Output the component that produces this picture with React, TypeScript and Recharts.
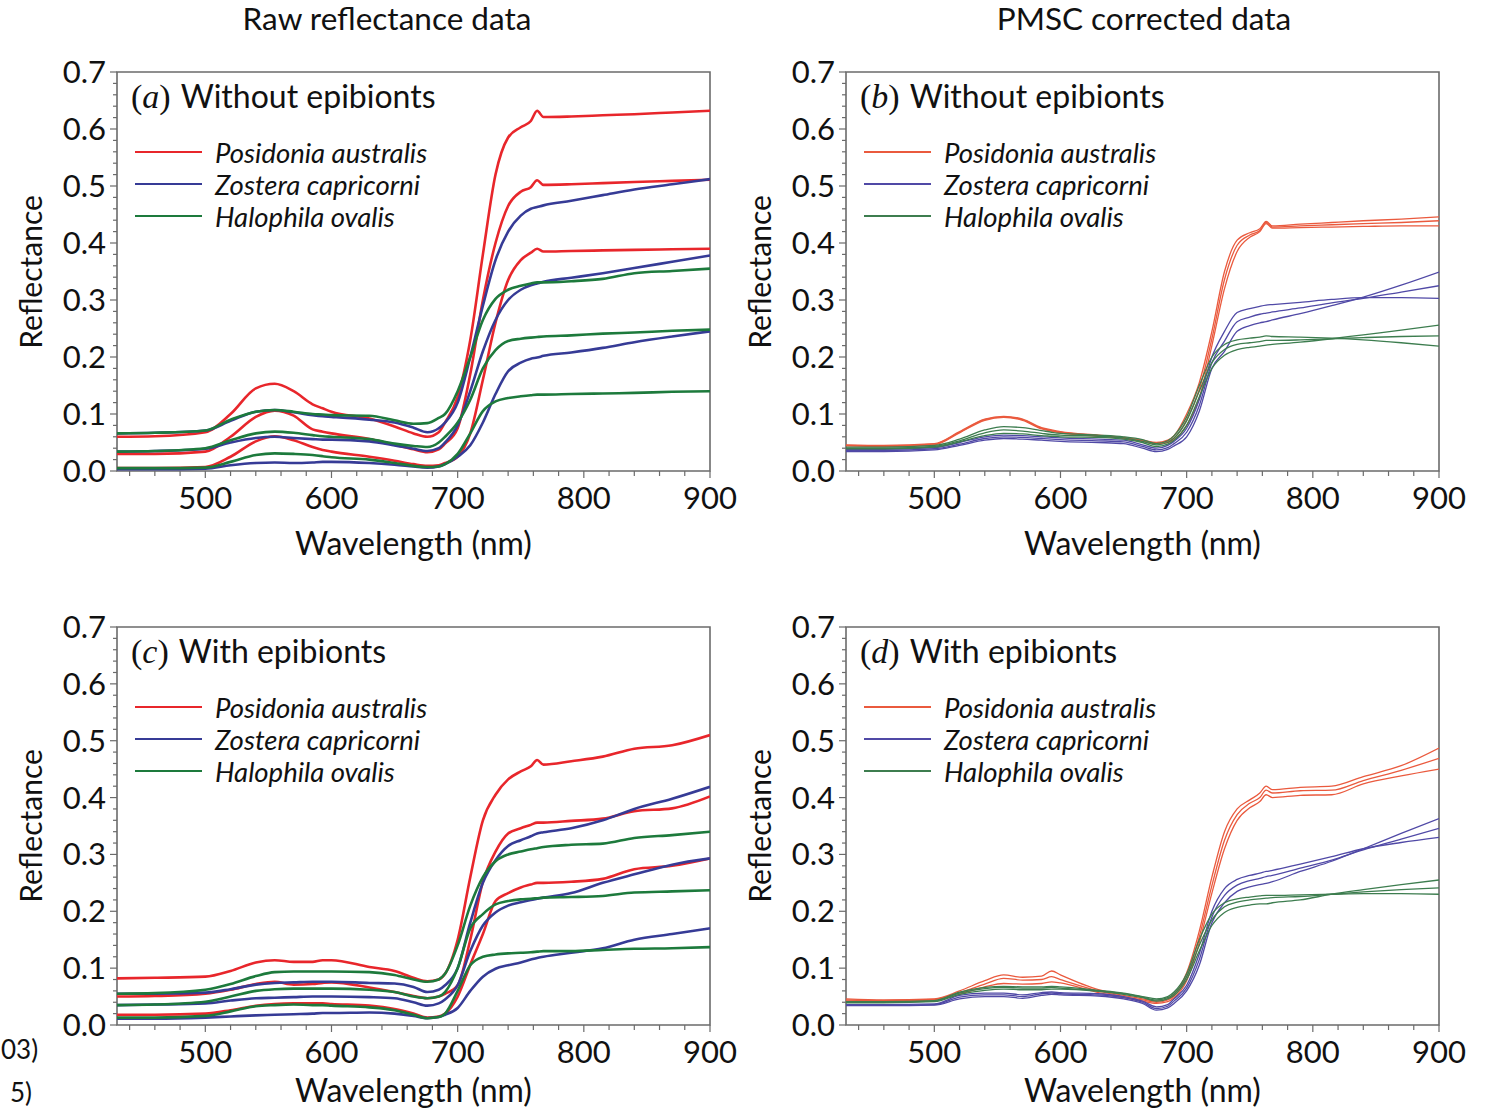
import { LineChart, Line, XAxis, YAxis, ReferenceArea } from 'recharts'

// wavelength grid (nm) shared by every spectrum
const WAVELENGTHS = [430, 460, 500, 520, 540, 555, 570, 585, 593, 600, 630, 650, 665, 676, 685, 690, 700, 710, 720, 730, 740, 750, 758, 763, 768, 790, 815, 840, 870, 900]

// (a) raw, without epibionts
const A_POS_1 = [0.060, 0.061, 0.068, 0.100, 0.145, 0.153, 0.140, 0.117, 0.110, 0.104, 0.092, 0.078, 0.066, 0.060, 0.068, 0.085, 0.130, 0.230, 0.380, 0.520, 0.585, 0.603, 0.614, 0.632, 0.621, 0.622, 0.624, 0.626, 0.629, 0.632]
const A_POS_2 = [0.030, 0.030, 0.034, 0.060, 0.095, 0.106, 0.097, 0.073, 0.069, 0.066, 0.056, 0.046, 0.038, 0.033, 0.038, 0.048, 0.075, 0.170, 0.300, 0.400, 0.465, 0.490, 0.498, 0.510, 0.502, 0.503, 0.505, 0.507, 0.509, 0.511]
const A_POS_3 = [0.005, 0.005, 0.007, 0.025, 0.052, 0.061, 0.054, 0.042, 0.037, 0.034, 0.025, 0.018, 0.012, 0.009, 0.010, 0.014, 0.025, 0.066, 0.160, 0.260, 0.335, 0.370, 0.383, 0.390, 0.385, 0.386, 0.387, 0.388, 0.389, 0.390]
const A_ZOS_1 = [0.066, 0.067, 0.071, 0.088, 0.104, 0.107, 0.103, 0.098, 0.096, 0.095, 0.090, 0.085, 0.076, 0.068, 0.075, 0.085, 0.120, 0.200, 0.290, 0.370, 0.420, 0.448, 0.460, 0.463, 0.466, 0.474, 0.484, 0.494, 0.503, 0.512]
const A_ZOS_2 = [0.034, 0.035, 0.039, 0.050, 0.058, 0.060, 0.058, 0.056, 0.055, 0.055, 0.052, 0.045, 0.039, 0.035, 0.040, 0.050, 0.080, 0.140, 0.210, 0.265, 0.300, 0.318, 0.326, 0.329, 0.332, 0.339, 0.347, 0.356, 0.367, 0.378]
const A_ZOS_3 = [0.003, 0.003, 0.004, 0.010, 0.014, 0.015, 0.014, 0.015, 0.016, 0.016, 0.014, 0.011, 0.008, 0.006, 0.008, 0.012, 0.025, 0.045, 0.085, 0.135, 0.175, 0.190, 0.197, 0.199, 0.202, 0.208, 0.216, 0.226, 0.236, 0.245]
const A_HAL_1 = [0.066, 0.067, 0.071, 0.090, 0.104, 0.107, 0.104, 0.100, 0.099, 0.098, 0.097, 0.089, 0.083, 0.084, 0.093, 0.100, 0.140, 0.200, 0.265, 0.302, 0.318, 0.325, 0.329, 0.331, 0.331, 0.333, 0.337, 0.347, 0.351, 0.355]
const A_HAL_2 = [0.034, 0.035, 0.040, 0.054, 0.066, 0.069, 0.067, 0.063, 0.061, 0.060, 0.056, 0.048, 0.044, 0.042, 0.050, 0.060, 0.085, 0.125, 0.180, 0.212, 0.228, 0.232, 0.234, 0.235, 0.236, 0.238, 0.241, 0.243, 0.246, 0.248]
const A_HAL_3 = [0.005, 0.005, 0.006, 0.016, 0.028, 0.031, 0.030, 0.028, 0.026, 0.024, 0.020, 0.014, 0.009, 0.007, 0.008, 0.012, 0.030, 0.066, 0.105, 0.122, 0.128, 0.131, 0.133, 0.134, 0.134, 0.135, 0.136, 0.137, 0.139, 0.140]

// (b) PMSC, without epibionts
const B_POS_1 = [0.046, 0.045, 0.048, 0.069, 0.091, 0.096, 0.091, 0.076, 0.072, 0.069, 0.063, 0.059, 0.054, 0.050, 0.054, 0.062, 0.100, 0.155, 0.245, 0.350, 0.405, 0.418, 0.425, 0.438, 0.430, 0.433, 0.436, 0.439, 0.442, 0.446]
const B_POS_2 = [0.045, 0.044, 0.047, 0.068, 0.090, 0.095, 0.090, 0.075, 0.071, 0.068, 0.062, 0.058, 0.053, 0.049, 0.052, 0.058, 0.090, 0.143, 0.232, 0.336, 0.396, 0.414, 0.422, 0.436, 0.428, 0.430, 0.432, 0.434, 0.436, 0.439]
const B_POS_3 = [0.044, 0.043, 0.046, 0.067, 0.089, 0.094, 0.089, 0.074, 0.070, 0.067, 0.061, 0.057, 0.052, 0.048, 0.050, 0.055, 0.080, 0.128, 0.220, 0.320, 0.385, 0.410, 0.420, 0.434, 0.426, 0.427, 0.428, 0.429, 0.430, 0.430]
const B_ZOS_1 = [0.034, 0.034, 0.037, 0.045, 0.054, 0.057, 0.056, 0.054, 0.053, 0.052, 0.050, 0.048, 0.040, 0.034, 0.038, 0.044, 0.060, 0.105, 0.180, 0.210, 0.245, 0.255, 0.260, 0.262, 0.265, 0.276, 0.290, 0.305, 0.326, 0.349]
const B_ZOS_2 = [0.036, 0.036, 0.039, 0.047, 0.057, 0.060, 0.059, 0.057, 0.056, 0.055, 0.053, 0.051, 0.043, 0.037, 0.041, 0.048, 0.068, 0.115, 0.190, 0.228, 0.262, 0.270, 0.275, 0.277, 0.279, 0.286, 0.295, 0.303, 0.314, 0.325]
const B_ZOS_3 = [0.038, 0.038, 0.041, 0.050, 0.060, 0.063, 0.062, 0.060, 0.059, 0.058, 0.056, 0.054, 0.046, 0.040, 0.045, 0.052, 0.075, 0.125, 0.200, 0.245, 0.278, 0.285, 0.289, 0.291, 0.292, 0.296, 0.301, 0.304, 0.304, 0.303]
const B_HAL_1 = [0.042, 0.042, 0.045, 0.056, 0.072, 0.078, 0.076, 0.071, 0.068, 0.066, 0.063, 0.060, 0.055, 0.048, 0.053, 0.062, 0.095, 0.150, 0.200, 0.222, 0.230, 0.233, 0.235, 0.237, 0.236, 0.235, 0.233, 0.230, 0.225, 0.219]
const B_HAL_2 = [0.040, 0.040, 0.043, 0.053, 0.067, 0.072, 0.070, 0.066, 0.064, 0.063, 0.061, 0.058, 0.052, 0.046, 0.050, 0.058, 0.088, 0.140, 0.190, 0.213, 0.222, 0.225, 0.227, 0.229, 0.229, 0.230, 0.232, 0.234, 0.236, 0.237]
const B_HAL_3 = [0.039, 0.039, 0.042, 0.051, 0.062, 0.066, 0.065, 0.062, 0.061, 0.060, 0.059, 0.056, 0.050, 0.043, 0.047, 0.054, 0.080, 0.130, 0.180, 0.203, 0.213, 0.217, 0.219, 0.221, 0.222, 0.226, 0.232, 0.239, 0.247, 0.256]

// (c) raw, with epibionts
const C_POS_1 = [0.082, 0.083, 0.085, 0.095, 0.110, 0.114, 0.111, 0.111, 0.114, 0.114, 0.102, 0.095, 0.083, 0.077, 0.080, 0.090, 0.150, 0.260, 0.360, 0.405, 0.432, 0.446, 0.455, 0.466, 0.458, 0.464, 0.472, 0.486, 0.492, 0.510]
const C_POS_2 = [0.050, 0.051, 0.055, 0.062, 0.072, 0.076, 0.071, 0.072, 0.074, 0.075, 0.066, 0.058, 0.051, 0.047, 0.050, 0.055, 0.070, 0.150, 0.252, 0.305, 0.337, 0.346, 0.352, 0.356, 0.356, 0.359, 0.363, 0.376, 0.381, 0.402]
const C_POS_3 = [0.018, 0.018, 0.020, 0.026, 0.034, 0.037, 0.038, 0.038, 0.038, 0.037, 0.034, 0.028, 0.020, 0.013, 0.015, 0.020, 0.050, 0.106, 0.160, 0.218, 0.232, 0.242, 0.247, 0.250, 0.250, 0.252, 0.257, 0.274, 0.280, 0.293]
const C_ZOS_1 = [0.055, 0.055, 0.057, 0.063, 0.071, 0.074, 0.075, 0.076, 0.076, 0.076, 0.074, 0.073, 0.067, 0.058, 0.062, 0.070, 0.100, 0.180, 0.250, 0.290, 0.315, 0.325, 0.332, 0.337, 0.339, 0.346, 0.360, 0.380, 0.398, 0.419]
const C_ZOS_2 = [0.035, 0.036, 0.038, 0.043, 0.047, 0.048, 0.049, 0.050, 0.050, 0.050, 0.049, 0.047, 0.040, 0.034, 0.038, 0.045, 0.070, 0.130, 0.175, 0.198, 0.210, 0.216, 0.220, 0.222, 0.224, 0.232, 0.250, 0.265, 0.282, 0.293]
const C_ZOS_3 = [0.011, 0.011, 0.013, 0.015, 0.017, 0.018, 0.019, 0.020, 0.021, 0.021, 0.022, 0.020, 0.016, 0.012, 0.014, 0.018, 0.030, 0.060, 0.085, 0.099, 0.105, 0.110, 0.115, 0.118, 0.120, 0.127, 0.135, 0.150, 0.160, 0.170]
const C_HAL_1 = [0.055, 0.056, 0.062, 0.072, 0.086, 0.093, 0.094, 0.094, 0.094, 0.094, 0.093, 0.088, 0.080, 0.076, 0.080, 0.090, 0.140, 0.210, 0.260, 0.288, 0.300, 0.305, 0.309, 0.311, 0.313, 0.317, 0.319, 0.329, 0.334, 0.340]
const C_HAL_2 = [0.035, 0.036, 0.041, 0.050, 0.060, 0.063, 0.064, 0.064, 0.064, 0.064, 0.062, 0.058, 0.050, 0.047, 0.050, 0.058, 0.100, 0.170, 0.195, 0.212, 0.218, 0.221, 0.222, 0.223, 0.224, 0.225, 0.227, 0.233, 0.235, 0.237]
const C_HAL_3 = [0.013, 0.013, 0.016, 0.024, 0.033, 0.035, 0.036, 0.035, 0.035, 0.034, 0.031, 0.026, 0.018, 0.012, 0.014, 0.020, 0.060, 0.105, 0.120, 0.124, 0.126, 0.127, 0.128, 0.129, 0.130, 0.130, 0.132, 0.134, 0.135, 0.137]

// (d) PMSC, with epibionts
const D_POS_1 = [0.046, 0.044, 0.046, 0.060, 0.078, 0.088, 0.084, 0.086, 0.095, 0.088, 0.062, 0.052, 0.046, 0.042, 0.046, 0.054, 0.092, 0.165, 0.260, 0.340, 0.380, 0.396, 0.408, 0.420, 0.414, 0.418, 0.420, 0.437, 0.456, 0.487]
const D_POS_2 = [0.044, 0.043, 0.045, 0.057, 0.072, 0.082, 0.079, 0.080, 0.085, 0.080, 0.060, 0.050, 0.044, 0.040, 0.044, 0.051, 0.085, 0.155, 0.245, 0.325, 0.370, 0.390, 0.400, 0.413, 0.408, 0.412, 0.413, 0.430, 0.448, 0.469]
const D_POS_3 = [0.042, 0.042, 0.044, 0.054, 0.067, 0.073, 0.072, 0.073, 0.076, 0.074, 0.057, 0.048, 0.042, 0.038, 0.041, 0.048, 0.078, 0.145, 0.232, 0.310, 0.360, 0.382, 0.393, 0.405, 0.400, 0.404, 0.405, 0.424, 0.438, 0.450]
const D_ZOS_1 = [0.034, 0.034, 0.035, 0.046, 0.050, 0.050, 0.047, 0.052, 0.054, 0.053, 0.051, 0.046, 0.038, 0.026, 0.030, 0.038, 0.060, 0.105, 0.180, 0.215, 0.235, 0.243, 0.247, 0.249, 0.252, 0.270, 0.288, 0.310, 0.337, 0.363]
const D_ZOS_2 = [0.035, 0.035, 0.036, 0.049, 0.053, 0.053, 0.050, 0.055, 0.056, 0.055, 0.053, 0.048, 0.040, 0.029, 0.033, 0.042, 0.065, 0.115, 0.190, 0.228, 0.246, 0.254, 0.258, 0.261, 0.263, 0.276, 0.290, 0.308, 0.327, 0.346]
const D_ZOS_3 = [0.036, 0.036, 0.037, 0.052, 0.056, 0.056, 0.053, 0.057, 0.058, 0.057, 0.055, 0.050, 0.042, 0.032, 0.036, 0.046, 0.070, 0.125, 0.200, 0.240, 0.256, 0.263, 0.267, 0.270, 0.272, 0.283, 0.296, 0.310, 0.321, 0.330]
const D_HAL_1 = [0.041, 0.041, 0.043, 0.058, 0.066, 0.068, 0.067, 0.067, 0.068, 0.067, 0.061, 0.056, 0.050, 0.046, 0.050, 0.058, 0.090, 0.150, 0.195, 0.215, 0.222, 0.225, 0.227, 0.228, 0.228, 0.229, 0.230, 0.231, 0.231, 0.230]
const D_HAL_2 = [0.040, 0.040, 0.042, 0.056, 0.064, 0.066, 0.065, 0.065, 0.066, 0.065, 0.060, 0.055, 0.049, 0.044, 0.048, 0.055, 0.085, 0.140, 0.185, 0.208, 0.216, 0.220, 0.222, 0.223, 0.224, 0.226, 0.230, 0.234, 0.238, 0.241]
const D_HAL_3 = [0.039, 0.039, 0.041, 0.054, 0.061, 0.063, 0.062, 0.062, 0.063, 0.063, 0.059, 0.054, 0.048, 0.042, 0.046, 0.052, 0.080, 0.130, 0.175, 0.198, 0.207, 0.211, 0.213, 0.213, 0.215, 0.220, 0.230, 0.238, 0.247, 0.255]

const SPECIES = ['Posidonia australis', 'Zostera capricorni', 'Halophila ovalis']

const X_TICKS = [440, 460, 480, 500, 520, 540, 560, 580, 600, 620, 640, 660, 680, 700, 720, 740, 760, 780, 800, 820, 840, 860, 880, 900]
const Y_TICKS = [0, 0.02, 0.04, 0.06, 0.08, 0.1, 0.12, 0.14, 0.16, 0.18, 0.2, 0.22, 0.24, 0.26, 0.28, 0.3, 0.32, 0.34, 0.36, 0.38, 0.4, 0.42, 0.44, 0.46, 0.48, 0.5, 0.52, 0.54, 0.56, 0.58, 0.6, 0.62, 0.64, 0.66, 0.68, 0.7]

const FONT = 'Lato, "Open Sans", sans-serif'
const SERIF = '"Liberation Serif", "DejaVu Serif", serif'
const AXIS = '#6b6b6b'

const RAW = { red: '#e8262b', blue: '#363b96', green: '#1d7a3c', width: 2.6 }
const PMSC = { red: '#ea5a3e', blue: '#5049a6', green: '#3d7d4f', width: 1.3 }

type Style = typeof RAW

function seriesFor(pos: number[][], zos: number[][], hal: number[][], st: Style) {
  return [
    ...pos.map((v, i) => ({ key: 'pos' + i, values: v, color: st.red })),
    ...zos.map((v, i) => ({ key: 'zos' + i, values: v, color: st.blue })),
    ...hal.map((v, i) => ({ key: 'hal' + i, values: v, color: st.green })),
  ]
}

function XTick(props: any) {
  const { x, y, payload } = props
  const v = payload.value as number
  const major = v % 100 === 0
  return (
    <g>
      <line x1={x} x2={x} y1={y} y2={y + (major ? 7 : 5)} stroke={AXIS} strokeWidth={1.2} />
      {major && (
        <text x={x} y={y + 38} textAnchor="middle" fontSize={31} fontFamily={FONT} fill="#111">
          {v}
        </text>
      )}
    </g>
  )
}

function YTick(props: any) {
  const { x, y, payload } = props
  const v = payload.value as number
  const major = Math.abs(v * 10 - Math.round(v * 10)) < 1e-6
  return (
    <g>
      <line x1={x} x2={x - (major ? 7 : 4)} y1={y} y2={y} stroke={AXIS} strokeWidth={1.2} />
      {major && (
        <text x={x - 11} y={y + 11} textAnchor="end" fontSize={31} fontFamily={FONT} fill="#111">
          {v.toFixed(1)}
        </text>
      )}
    </g>
  )
}

const Y_AXIS_W = 117
const TOP_PAD = 20
const RIGHT_PAD = 40
const X_AXIS_H = 100

interface PanelProps {
  left: number
  top: number
  plotW: number
  plotH: number
  letter: string
  title: string
  series: { key: string; values: number[]; color: string }[]
  st: Style
  legendWidth: number
  labelOffset: number
}

function Panel({ left, top, plotW, plotH, letter, title, series, st, legendWidth, labelOffset }: PanelProps) {
  const rows = WAVELENGTHS.map((nm, i) => {
    const row: Record<string, number> = { nm }
    for (const s of series) row[s.key] = s.values[i]
    return row
  })
  const w = Y_AXIS_W + plotW + RIGHT_PAD
  const h = TOP_PAD + plotH + X_AXIS_H
  const legendColors = [st.red, st.blue, st.green]
  return (
    <>
      <div style={{ position: 'absolute', left: left - Y_AXIS_W, top: top - TOP_PAD }}>
        <LineChart width={w} height={h} data={rows} margin={{ top: TOP_PAD, right: RIGHT_PAD, left: 0, bottom: 0 }}>
          <XAxis
            dataKey="nm"
            type="number"
            domain={[430, 900]}
            ticks={X_TICKS}
            interval={0}
            allowDataOverflow
            axisLine={false}
            tickLine={false}
            tickSize={0}
            tickMargin={0}
            tick={<XTick />}
            height={X_AXIS_H}
            label={{ value: 'Wavelength (nm)', position: 'insideBottom', offset: labelOffset, fontSize: 32, fontFamily: FONT, fill: '#111' }}
          />
          <YAxis
            type="number"
            domain={[0, 0.7]}
            ticks={Y_TICKS}
            interval={0}
            allowDataOverflow
            axisLine={false}
            tickLine={false}
            tickSize={0}
            tickMargin={0}
            tick={<YTick />}
            width={Y_AXIS_W}
          />
          {series.map((s) => (
            <Line
              key={s.key}
              type="monotone"
              dataKey={s.key}
              stroke={s.color}
              strokeWidth={st.width}
              dot={false}
              activeDot={false}
              isAnimationActive={false}
            />
          ))}
          <ReferenceArea x1={430} x2={900} y1={0} y2={0.7} fill="none" stroke={AXIS} strokeWidth={1.6} ifOverflow="visible" />
        </LineChart>
      </div>
      <div
        style={{
          position: 'absolute',
          left: left - 87,
          top: top + plotH / 2,
          transform: 'translate(-50%, -50%) rotate(-90deg)',
          fontFamily: FONT,
          fontSize: 30,
          color: '#111',
          whiteSpace: 'nowrap',
        }}
      >
        Reflectance
      </div>
      <div
        style={{
          position: 'absolute',
          left: left + 14,
          top: top + 4,
          fontFamily: FONT,
          fontSize: 32,
          color: '#111',
          whiteSpace: 'nowrap',
          lineHeight: '40px',
        }}
      >
        <span style={{ fontFamily: SERIF, fontSize: 34 }}>(</span>
        <span style={{ fontFamily: SERIF, fontStyle: 'italic', fontSize: 34 }}>{letter}</span>
        <span style={{ fontFamily: SERIF, fontSize: 34 }}>)</span>
        <span style={{ marginLeft: 10 }}>{title}</span>
      </div>
      {SPECIES.map((name, i) => (
        <div
          key={name}
          style={{
            position: 'absolute',
            left: left + 18,
            top: top + 80 + i * 32 - 16,
            height: 32,
            display: 'flex',
            alignItems: 'center',
            whiteSpace: 'nowrap',
          }}
        >
          <div style={{ width: 67, borderTop: `${legendWidth}px solid ${legendColors[i]}` }} />
          <span style={{ marginLeft: 13, fontFamily: FONT, fontStyle: 'italic', fontSize: 27.5, color: '#111' }}>{name}</span>
        </div>
      ))}
    </>
  )
}

const PANEL_A = seriesFor([A_POS_1, A_POS_2, A_POS_3], [A_ZOS_1, A_ZOS_2, A_ZOS_3], [A_HAL_1, A_HAL_2, A_HAL_3], RAW)
const PANEL_B = seriesFor([B_POS_1, B_POS_2, B_POS_3], [B_ZOS_1, B_ZOS_2, B_ZOS_3], [B_HAL_1, B_HAL_2, B_HAL_3], PMSC)
const PANEL_C = seriesFor([C_POS_1, C_POS_2, C_POS_3], [C_ZOS_1, C_ZOS_2, C_ZOS_3], [C_HAL_1, C_HAL_2, C_HAL_3], RAW)
const PANEL_D = seriesFor([D_POS_1, D_POS_2, D_POS_3], [D_ZOS_1, D_ZOS_2, D_ZOS_3], [D_HAL_1, D_HAL_2, D_HAL_3], PMSC)

const colTitle = (x: number): React.CSSProperties => ({
  position: 'absolute',
  left: x,
  top: 18,
  transform: 'translate(-50%, -50%)',
  fontFamily: FONT,
  fontSize: 31.5,
  color: '#111',
  whiteSpace: 'nowrap',
})

export default function App() {
  return (
    <div style={{ position: 'absolute', left: 0, top: 0, width: 1494, height: 1111, background: '#fff', overflow: 'hidden' }}>
      <div style={colTitle(387)}>Raw reflectance data</div>
      <div style={colTitle(1144)}>PMSC corrected data</div>
      <Panel left={117} top={72} plotW={593} plotH={399} letter="a" title="Without epibionts" series={PANEL_A} st={RAW} legendWidth={2.6} labelOffset={16} />
      <Panel left={846} top={72} plotW={593} plotH={399} letter="b" title="Without epibionts" series={PANEL_B} st={PMSC} legendWidth={2.6} labelOffset={16} />
      <Panel left={117} top={627} plotW={593} plotH={398} letter="c" title="With epibionts" series={PANEL_C} st={RAW} legendWidth={2.6} labelOffset={23} />
      <Panel left={846} top={627} plotW={593} plotH={398} letter="d" title="With epibionts" series={PANEL_D} st={PMSC} legendWidth={2} labelOffset={23} />
      <div style={{ position: 'absolute', left: 1, top: 1033, fontFamily: FONT, fontSize: 26, color: '#111' }}>03)</div>
      <div style={{ position: 'absolute', left: 10, top: 1076, fontFamily: FONT, fontSize: 26, color: '#111' }}>5)</div>
    </div>
  )
}
